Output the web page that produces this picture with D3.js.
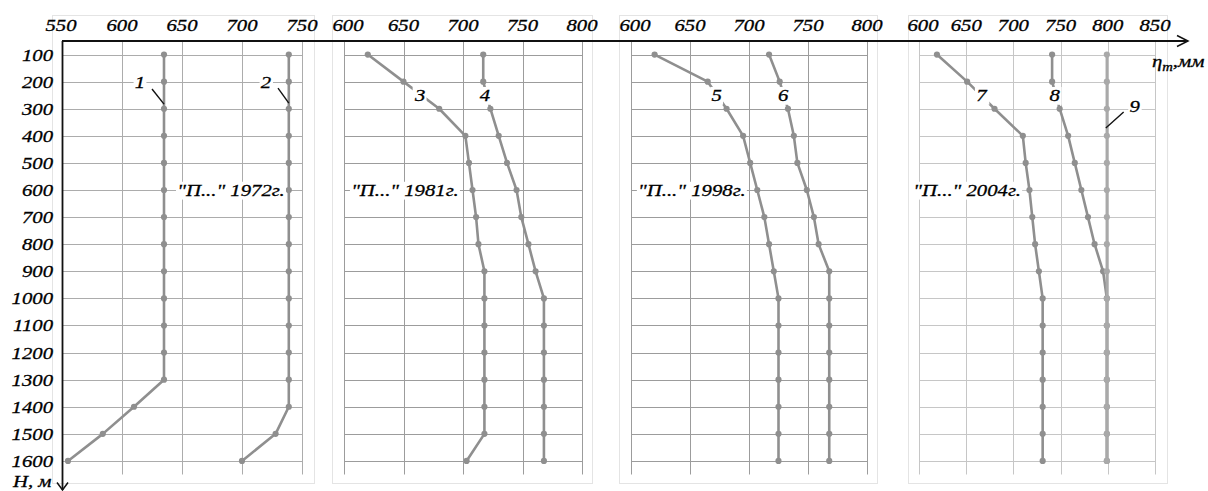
<!DOCTYPE html>
<html><head><meta charset="utf-8">
<script src="https://cdn.jsdelivr.net/npm/d3@7"></script>
<style>
html,body{margin:0;padding:0;background:#fff;}
svg{display:block;}
text{font-family:"Liberation Serif","Times New Roman",serif;font-style:italic;fill:#000;stroke:#000;stroke-width:0.3;}
</style>
</head><body><svg id="c" width="1208" height="491"></svg>
<script>
// ---------- data ----------
const depths = [100,200,300,400,500,600,700,800,900,1000,1100,1200,1300,1400,1500,1600];
const years = ["1972","1981","1998","2004"];
const ticks1 = [550,600,650,700,750];
const ticks2 = [600,650,700,750,800];
const ticks3 = [600,650,700,750,800];
const ticks4 = [600,650,700,750,800,850];
const s1 = [635,635,635,635,635,635,635,635,635,635,635,635,635,610,584,555];
const s2 = [739,739,739,739,739,739,739,739,739,739,739,739,739,739,728,700];
const s3 = [620,650,680,702,705,708,711,713,718,718,718,718,718,718,718,703];
const s4 = [717,717,723,730,737,745,749,755,761,768,768,768,768,768,768,768];
const s5 = [620,665,681,695,701,707,713,717,721,725,725,725,725,725,725,725];
const s6 = [717,726,733,738,741,749,755,759,768,768,768,768,768,768,768,768];
const s7 = [619,651,680,710,713,717,720,723,727,731,731,731,731,731,731,731];
const s8 = [741,741,749,758,765,772,779,786,795,799,799,799,799,799,799,799];
const s9 = [799,799,799,799,799,799,799,799,799,799,799,799,799,799,799,799];
const seriesNames = [["1","2"],["3","4"],["5","6"],["7","8","9"]];
const panelSeries = [[s1,s2],[s3,s4],[s5,s6],[s7,s8,s9]];
const panelTicks = [ticks1,ticks2,ticks3,ticks4];

// ---------- layout ----------
const frames = [[52,314],[332,592],[619,877],[908,1167]];
const plotX = [[62,302],[344,582],[631,867],[919,1155]];
const TOP = 41, BOT = 474.5, FTOP = 15, FBOT = 483;
const SX = 1.22, FS = 17;
const gridCol = ["#acacac","#9c9c9c","#9c9c9c","#c6c6c6"];
const lineCol = "#8f8f8f";
// annotation anchors in data units [value, depth]
const numPos = [[[615,200],[720,200]],[[664,250],[718.5,250]],[[672.6,250],[729,250]],[[666,250],[743.7,250],[828.5,290]]];
const leaders = [[[625,227,635,283],[730,224,739,279]],[],[],[[816.8,312,797.9,371]]];
const yearStart = [646,606,606,594];
const yearDepth = 600;

const svg = d3.select("#c");
const y = d3.scaleLinear().domain([50,1650]).range([TOP,BOT]);

function stext(parent, x, yy, str, anchor, bg){
  const g = parent.append("g").attr("transform",`translate(${x},${yy}) scale(${SX},1)`);
  const r = bg ? g.append("rect").attr("fill","#fff") : null;
  const t = g.append("text").attr("font-size",FS).attr("text-anchor",anchor||"start").text(str);
  if (bg){
    const b = t.node().getBBox();
    r.attr("x",b.x-1).attr("y",b.y+1).attr("width",b.width+2).attr("height",b.height-1);
  }
  return t;
}

panelSeries.forEach((series, pi) => {
  const x = d3.scaleLinear().domain(d3.extent(panelTicks[pi])).range(plotX[pi]);
  const g = svg.append("g");
  g.append("rect").attr("x",frames[pi][0]+0.5).attr("y",FTOP+0.5)
    .attr("width",frames[pi][1]-frames[pi][0]).attr("height",FBOT-FTOP)
    .attr("fill","none").attr("stroke","#e4e4e4").attr("stroke-width",1);
  g.selectAll(".vg").data(panelTicks[pi].filter(t => pi>0 || t!==panelTicks[pi][0])).join("line")
    .attr("x1",d=>Math.round(x(d))+0.5).attr("x2",d=>Math.round(x(d))+0.5)
    .attr("y1",TOP).attr("y2",BOT).attr("stroke",gridCol[pi]).attr("stroke-width",1);
  g.selectAll(".hg").data(depths).join("line")
    .attr("x1",plotX[pi][0]).attr("x2",plotX[pi][1])
    .attr("y1",d=>Math.round(y(d))+0.5).attr("y2",d=>Math.round(y(d))+0.5)
    .attr("stroke",gridCol[pi]).attr("stroke-width",1);
  panelTicks[pi].forEach((t,i) => {
    const dx = (pi>0 && i===0) ? 4 : (pi===0 && i===0 ? -1 : 0);
    stext(g, x(t)+dx, 31, String(t), "middle");
  });
  const line = d3.line().x(d=>x(d[0])).y(d=>y(d[1]));
  series.forEach((s, si) => {
    const pts = s.map((v,i)=>[v, depths[i]]);
    const col = (pi===3 && si===2) ? "#a9a9a9" : lineCol;
    g.append("path").attr("d",line(pts)).attr("fill","none")
      .attr("stroke",col).attr("stroke-width",2.6).attr("stroke-linejoin","round");
    g.selectAll(null).data(pts).join("circle")
      .attr("cx",d=>x(d[0])).attr("cy",d=>y(d[1])).attr("r",3.1).attr("fill",col);
  });
  stext(g, x(yearStart[pi]), y(yearDepth)+6, `"П..." ${years[pi]}г.`, "start", true);
  seriesNames[pi].forEach((n, si) => {
    const p = numPos[pi][si];
    stext(g, x(p[0]), y(p[1])+6, n, "middle", true);
  });
  leaders[pi].forEach(l => {
    g.append("line").attr("x1",x(l[0])).attr("y1",y(l[1])).attr("x2",x(l[2])).attr("y2",y(l[3]))
      .attr("stroke","#111").attr("stroke-width",1.4);
  });
});

depths.forEach(d => stext(svg, 53, y(d)+6, String(d), "end"));

svg.append("line").attr("x1",62).attr("x2",1188).attr("y1",41).attr("y2",41).attr("stroke","#111").attr("stroke-width",1.8);
svg.append("path").attr("d","M1177,35.5L1188,41L1177,46.5").attr("fill","none").attr("stroke","#111").attr("stroke-width",1.5);
svg.append("line").attr("x1",62.5).attr("x2",62.5).attr("y1",41).attr("y2",490).attr("stroke","#111").attr("stroke-width",1.8);
svg.append("path").attr("d","M57,482.5L62.5,490L68,482.5").attr("fill","none").attr("stroke","#111").attr("stroke-width",1.5);

const et = svg.append("g").attr("transform",`translate(1152,67) scale(${SX},1)`).append("text").attr("font-size",FS);
et.append("tspan").text("η");
et.append("tspan").attr("font-size",12).attr("dy",4).text("m");
et.append("tspan").attr("dy",-4).text(",мм");
stext(svg, 13, 487, "H, м", "start");
</script>
</body></html>
